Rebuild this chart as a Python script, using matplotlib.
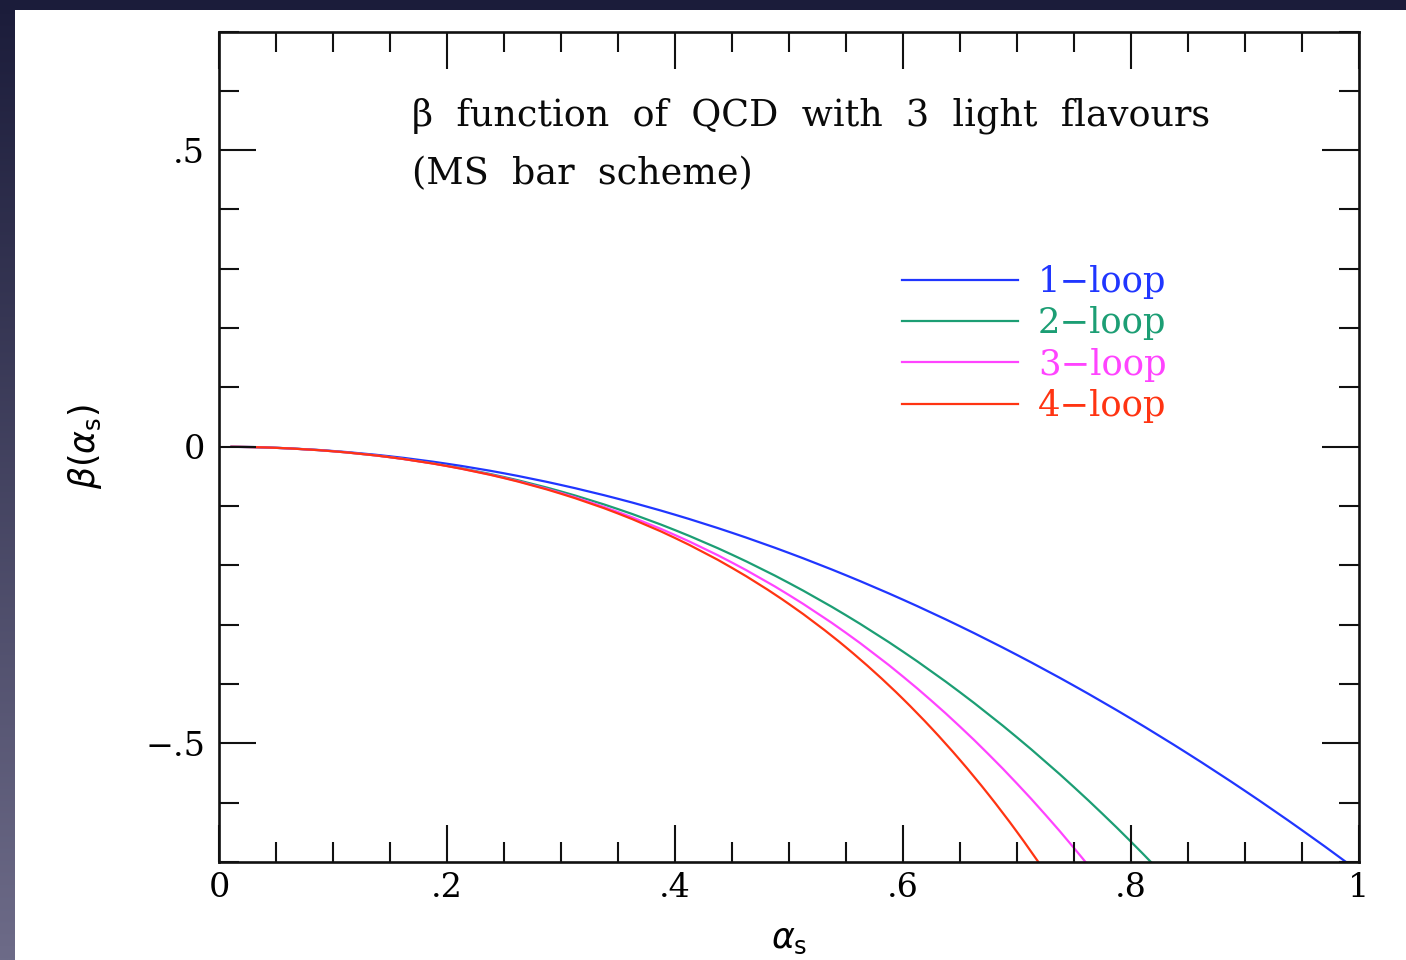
import numpy as np
import matplotlib
matplotlib.use("Agg")
import matplotlib.pyplot as plt
from matplotlib.lines import Line2D
from matplotlib.patches import Rectangle, PathPatch
from matplotlib.path import Path

# QCD beta function, n_f = 3, MS-bar scheme, truncated at increasing loop order
alpha_1loop = [0.01, 0.05, 0.10, 0.15, 0.20, 0.25, 0.30, 0.35, 0.40, 0.45, 0.50,
               0.55, 0.60, 0.65, 0.70, 0.75, 0.80, 0.85, 0.90, 0.95, 0.99]
beta_1loop = [-0.00007, -0.00179, -0.00716, -0.01611, -0.02865, -0.04476, -0.06446,
              -0.08773, -0.11459, -0.14503, -0.17905, -0.21665, -0.25783, -0.30259,
              -0.35094, -0.40286, -0.45837, -0.51745, -0.58012, -0.64637, -0.70195]

alpha_2loop = [0.01, 0.05, 0.10, 0.15, 0.20, 0.25, 0.30, 0.35, 0.40, 0.45, 0.50,
               0.55, 0.60, 0.65, 0.70, 0.75, 0.775, 0.80, 0.82]
beta_2loop = [-0.00007, -0.00184, -0.00757, -0.01748, -0.03189, -0.05109, -0.07540,
              -0.10511, -0.14053, -0.18196, -0.22971, -0.28408, -0.34537, -0.41389,
              -0.48995, -0.57384, -0.61882, -0.66587, -0.70503]

alpha_3loop = [0.01, 0.05, 0.10, 0.15, 0.20, 0.25, 0.30, 0.35, 0.40, 0.45, 0.50,
               0.55, 0.60, 0.625, 0.65, 0.675, 0.70, 0.725, 0.75, 0.765]
beta_3loop = [-0.00007, -0.00184, -0.00760, -0.01764, -0.03241, -0.05236, -0.07803,
              -0.10998, -0.14884, -0.19526, -0.24999, -0.31377, -0.38742, -0.42823,
              -0.47181, -0.51831, -0.56785, -0.62053, -0.67650, -0.71170]

alpha_4loop = [0.01, 0.05, 0.10, 0.15, 0.20, 0.25, 0.30, 0.35, 0.40, 0.45, 0.50,
               0.55, 0.60, 0.625, 0.65, 0.675, 0.70, 0.725]
beta_4loop = [-0.00007, -0.00184, -0.00761, -0.01768, -0.03257, -0.05283, -0.07921,
              -0.11253, -0.15381, -0.20421, -0.26514, -0.33817, -0.42512, -0.47447,
              -0.52807, -0.58625, -0.64934, -0.71764]

series_labels = ["1\u2212loop", "2\u2212loop", "3\u2212loop", "4\u2212loop"]
series_colors = ["#2036ff", "#1c9e74", "#ff44ff", "#ff3412"]

x_ticks = [0, 0.2, 0.4, 0.6, 0.8, 1.0]
x_ticklabels = ["0", ".2", ".4", ".6", ".8", "1"]
y_ticks = [-0.5, 0, 0.5]
y_ticklabels = ["\u2212.5", "0", ".5"]


def smooth_path(xs, ys):
    """Cubic Hermite (Bezier) path passing through every sample point."""
    x = np.asarray(xs, float)
    y = np.asarray(ys, float)
    h = np.diff(x)
    d = np.diff(y) / h
    m = np.empty_like(x)
    m[1:-1] = (d[:-1] * h[1:] + d[1:] * h[:-1]) / (h[:-1] + h[1:])
    m[0] = ((2 * h[0] + h[1]) * d[0] - h[0] * d[1]) / (h[0] + h[1])
    m[-1] = ((2 * h[-1] + h[-2]) * d[-1] - h[-1] * d[-2]) / (h[-1] + h[-2])
    verts = [(x[0], y[0])]
    codes = [Path.MOVETO]
    for i in range(len(x) - 1):
        verts += [(x[i] + h[i] / 3, y[i] + m[i] * h[i] / 3),
                  (x[i + 1] - h[i] / 3, y[i + 1] - m[i + 1] * h[i] / 3),
                  (x[i + 1], y[i + 1])]
        codes += [Path.CURVE4] * 3
    return Path(verts, codes)


W, H = 1406, 960
fig = plt.figure(figsize=(W / 100, H / 100), dpi=100)
fig.patch.set_facecolor("white")

# pixel-space backdrop: dark frame along the top and left edges
bg = fig.add_axes([0, 0, 1, 1], zorder=-5)
bg.axis("off")
grad = np.linspace(0, 1, 256)[:, None]
top_col = np.array([0x1b, 0x1c, 0x3a]) / 255
bot_col = np.array([0x6d, 0x6b, 0x88]) / 255
img = top_col[None, None, :] * (1 - grad[..., None]) + bot_col[None, None, :] * grad[..., None]
bg.imshow(img, extent=[0, 15, H, 0], aspect="auto", interpolation="bilinear")
bg.add_patch(Rectangle((0, 0), W, 10, color="#1b1c3a", lw=0))
bg.set_xlim(0, W)
bg.set_ylim(H, 0)

ax = fig.add_axes([219 / W, 1 - 862 / H, 1140 / W, 830.5 / H])
ax.set_facecolor("none")

curves = [(alpha_1loop, beta_1loop), (alpha_2loop, beta_2loop),
          (alpha_3loop, beta_3loop), (alpha_4loop, beta_4loop)]
handles = []
for (a, b), col, lab in zip(curves, series_colors, series_labels):
    ax.add_patch(PathPatch(smooth_path(a, b), facecolor="none", edgecolor=col,
                           lw=1.6, capstyle="butt"))
    handles.append(Line2D([], [], color=col, lw=1.6, label=lab))

ax.set_xlim(0, 1)
ax.set_ylim(-0.7, 0.7)

serif = "DejaVu Serif"
ax.set_xticks(x_ticks)
ax.set_xticklabels(x_ticklabels, fontfamily=serif, fontsize=24)
ax.set_yticks(y_ticks)
ax.set_yticklabels(y_ticklabels, fontfamily=serif, fontsize=24)
ax.set_xticks(np.arange(0, 1.0001, 0.05), minor=True)
ax.set_yticks(np.arange(-0.7, 0.7001, 0.1), minor=True)
ax.tick_params(which="both", direction="in", top=True, right=True, color="#111111")
ax.tick_params(which="major", length=26.5, width=1.5)
ax.tick_params(which="minor", length=14.4, width=1.5)
ax.tick_params(axis="x", which="major", pad=7)
ax.tick_params(axis="y", which="major", pad=10)
for s in ax.spines.values():
    s.set_linewidth(1.9)
    s.set_color("#111111")

ax.set_xlabel(r"$\alpha_\mathrm{s}$", fontsize=25)
ax.set_ylabel(r"$\beta(\alpha_\mathrm{s})$", fontsize=25)
ax.xaxis.set_label_coords(0.5, -(922 - 862) / 830.5)
ax.yaxis.set_label_coords((104 - 219) / 1140, 0.5)

ax.text(412, 126, "\u03b2  function  of  QCD  with  3  light  flavours",
        transform=bg.transData, fontfamily=serif, fontsize=26.3,
        ha="left", va="baseline", color="#0a0a0a")
ax.text(412, 184, "(MS  bar  scheme)",
        transform=bg.transData, fontfamily=serif, fontsize=26.3,
        ha="left", va="baseline", color="#0a0a0a")

leg = ax.legend(handles=handles, loc="upper left", bbox_to_anchor=(902, 265),
                bbox_transform=bg.transData,
                frameon=False, prop={"family": serif, "size": 25.5},
                labelcolor="linecolor", handlelength=3.28, handletextpad=0.56,
                labelspacing=0.21, borderpad=0, borderaxespad=0)

fig.savefig("out.png", dpi=100)
